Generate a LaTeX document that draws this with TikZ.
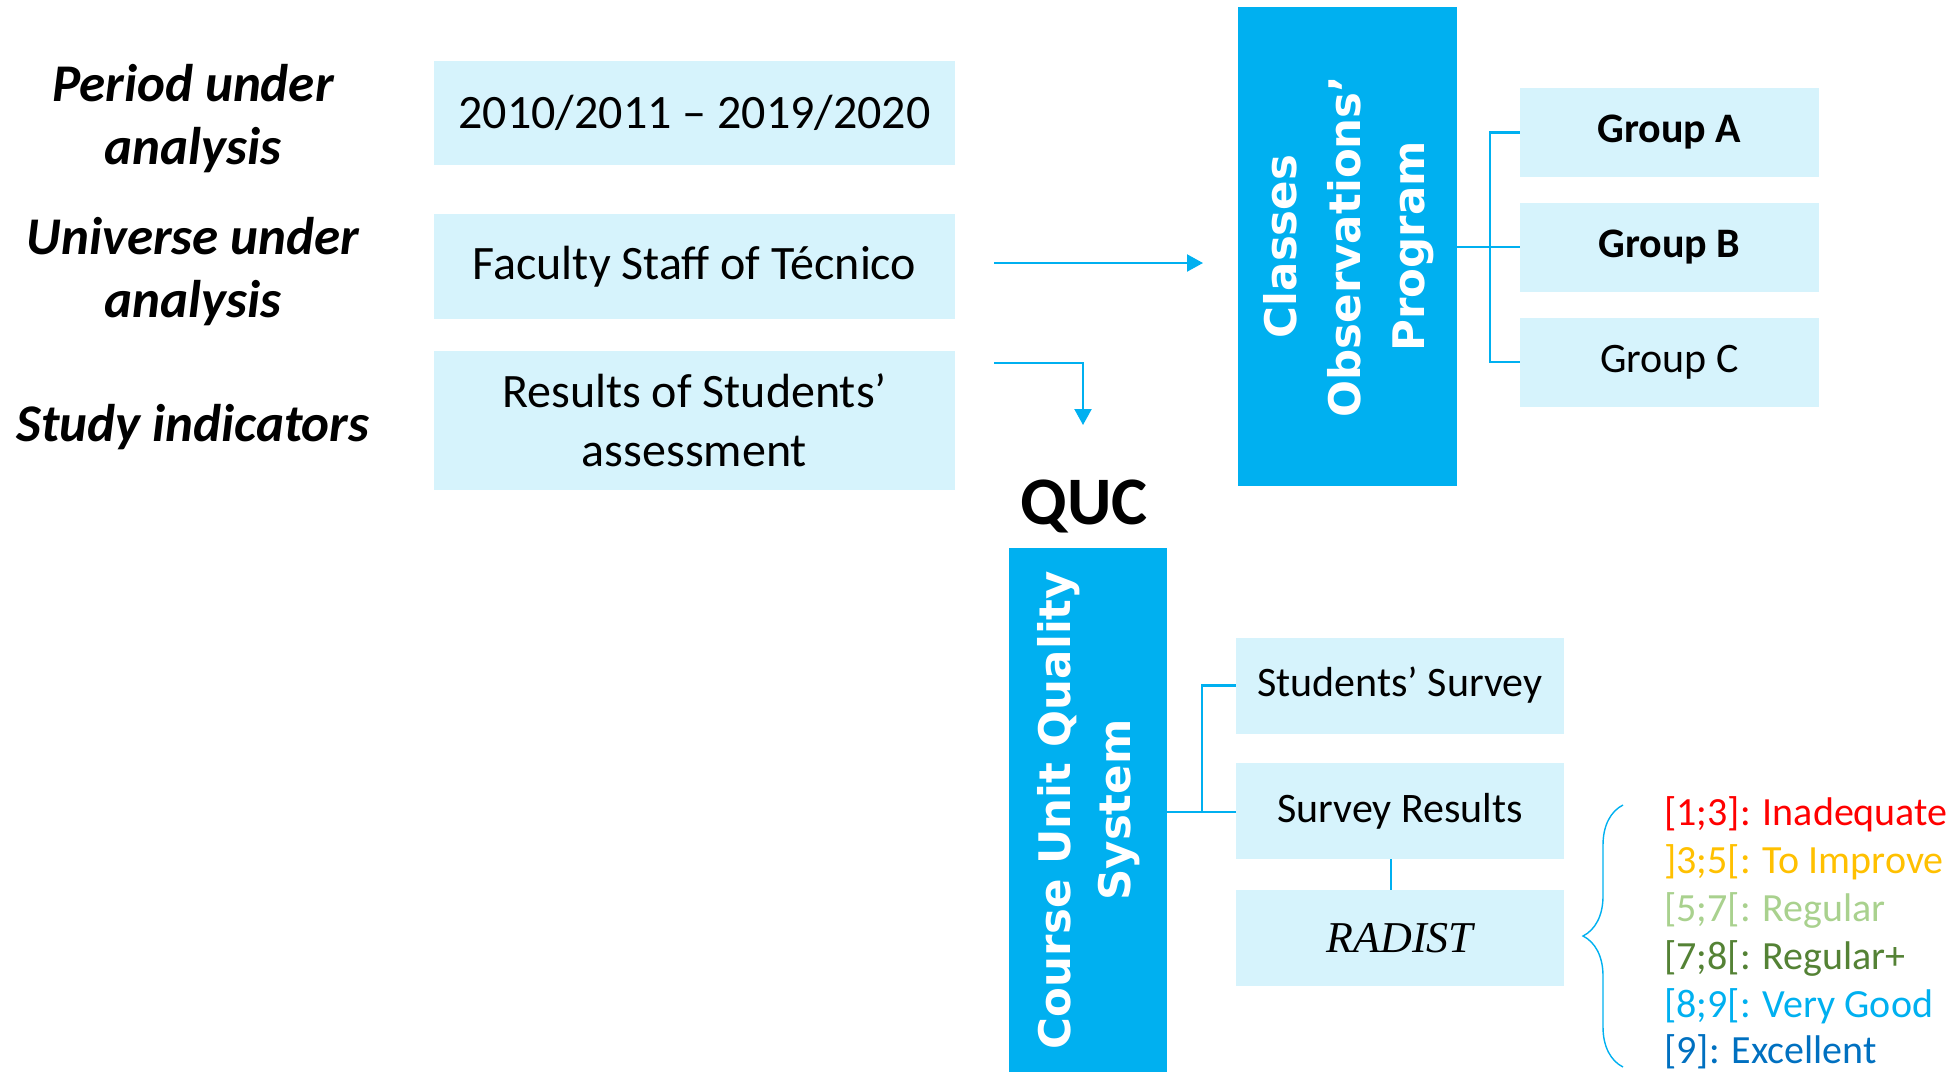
\documentclass[tikz,border=0pt]{standalone}
\usepackage{fontspec}
\setmainfont{Carlito}
\newfontfamily\wideb{DejaVu Sans}
\newfontfamily\radfont{Liberation Serif}
\usetikzlibrary{arrows.meta,decorations.pathreplacing}

\definecolor{quccyan}{HTML}{00B0F0}
\definecolor{paleblue}{HTML}{D6F3FC}
\definecolor{scalered}{HTML}{FF0000}
\definecolor{scaleorange}{HTML}{FFC000}
\definecolor{scalelight}{HTML}{A9D18E}
\definecolor{scaledark}{HTML}{548235}
\definecolor{scaleblue}{HTML}{0070C0}

\tikzset{
  rowlabel/.style={align=center, font=\fontsize{53}{63}\selectfont\bfseries\itshape},
  infobox/.style={fill=paleblue, inner sep=0, align=center, minimum width=521,
    font=\fontsize{48}{59}\selectfont},
  groupbox/.style={fill=paleblue, inner sep=0, minimum width=299, minimum height=89,
    font=\fontsize{42}{50}\selectfont},
  surveybox/.style={fill=paleblue, inner sep=0, minimum width=328, minimum height=96,
    font=\fontsize{42}{50}\selectfont},
  bigbox/.style={fill=quccyan, inner sep=0, text=white, align=center,
    font=\fontsize{43.5}{64}\selectfont\wideb\bfseries},
  link/.style={draw=quccyan, line width=2.2},
  flow/.style={link, -{Triangle[length=16, width=17]}},
  scaletext/.style={anchor=west, inner sep=0, font=\fontsize{40}{48}\selectfont}
}

\begin{document}
\begin{tikzpicture}[x=1pt, y=-1pt]
  \useasboundingbox (0,0) rectangle (1949,1072);

  % left column
  \node[rowlabel] (period) at (193,119) {Period under\\analysis};
  \node[rowlabel] (universe) at (193,272) {Universe under\\analysis};
  \node[rowlabel] (study) at (193,427) {Study indicators};

  \node[infobox, minimum height=104] (years) at (694.5,113) {2010/2011 -- 2019/2020};
  \node[infobox, minimum height=105] (staff) at (694.5,266.5) {Faculty Staff of Técnico};
  \node[infobox, minimum height=139] (results) at (694.5,420.5) {Results of Students’\\assessment};

  % observation program
  \node[bigbox, minimum width=219, minimum height=479] (obs) at (1347.5,246.5)
    {\rotatebox{90}{\begin{tabular}{c}Classes\\Observations’\\Program\end{tabular}}};
  \node[groupbox, font=\fontsize{42}{50}\selectfont\bfseries] (grpA) at (1669.5,132.5) {Group A};
  \node[groupbox, font=\fontsize{42}{50}\selectfont\bfseries] (grpB) at (1669.5,247) {Group B};
  \node[groupbox] (grpC) at (1669.5,362) {Group C};

  \coordinate (obsfork) at (1490,247);
  \draw[link] (obs.east |- obsfork) -- (grpB.west);
  \draw[link] (grpA.west) -| (obsfork) |- (grpC.west);

  % QUC
  \node[font=\fontsize{68}{80}\selectfont\bfseries] (quc) at (1084,506) {QUC};
  \node[bigbox, minimum width=158, minimum height=524, font=\fontsize{43.5}{60}\selectfont\wideb\bfseries] (cuqs) at (1088,810)
    {\rotatebox{90}{\begin{tabular}{c}Course Unit Quality\\System\end{tabular}}};

  \node[surveybox] (survey) at (1400,685.5) {Students’ Survey};
  \node[surveybox] (sresults) at (1400,811) {Survey Results};
  \node[surveybox, font=\fontsize{44}{50}\selectfont\radfont\itshape] (radist) at (1400,938) {RADIST};

  \coordinate (cufork) at (1202,812);
  \draw[link] (cuqs.east |- cufork) -- (sresults.west |- cufork);
  \draw[link] (cufork) |- (survey.west);
  \draw[link] ([xshift=-9]sresults.south) -- ([xshift=-9]radist.north);

  % arrows from the input boxes
  \coordinate (turn) at (1083,363);
  \draw[flow] (994,263) -- (1203,263);
  \draw[flow] (994,363) -- (turn) -- (1083,425);

  % RADIST scale
  \coordinate (braceTop) at (1623,805);
  \coordinate (braceBot) at (1623,1067);
  \draw[quccyan, line width=1.4, decorate, decoration={brace, amplitude=40}] (braceBot) -- (braceTop);

  \node[scaletext, text=scalered] (s1) at (1664,814) {[1;3]: Inadequate};
  \node[scaletext, text=scaleorange] (s2) at (1664,862) {]3;5[: To Improve};
  \node[scaletext, text=scalelight] (s3) at (1664,910) {[5;7[: Regular};
  \node[scaletext, text=scaledark] (s4) at (1664,958) {[7;8[: Regular+};
  \node[scaletext, text=quccyan] (s5) at (1664,1006) {[8;9[: Very Good};
  \node[scaletext, text=scaleblue] (s6) at (1664,1052) {[9]: Excellent};
\end{tikzpicture}
\end{document}
